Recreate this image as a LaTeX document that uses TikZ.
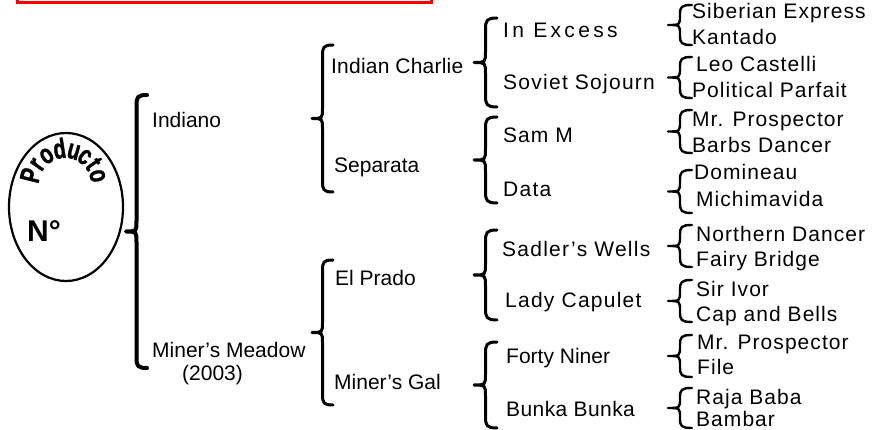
\documentclass[tikz,border=0pt]{standalone}
\usepackage{fontspec}
\setmainfont{Liberation Sans}
\newfontfamily\archfont{Liberation Sans}[FakeStretch=0.72, FakeBold=1.2]
\usetikzlibrary{shapes.geometric}

\tikzset{
  lbl/.style={anchor=base west, inner sep=0pt, font=\fontsize{21}{24}\selectfont},
  spaced/.style={execute at begin node={\addfontfeature{LetterSpace=#1}}},
  arch letter/.style={anchor=base, inner sep=0pt, font=\archfont\bfseries\fontsize{28}{28}\selectfont},
  brace line/.style={line width=3pt, line cap=round, line join=round},
}

% curly bracket, tip to the left: [opts] right x, top y, bottom y, width
\newcommand{\curly}[5][]{%
  \pgfmathsetmacro\crl{min(0.5*#5,0.24*(#4-#3))}%
  \pgfmathsetmacro\xm{#2-0.5*#5}%
  \pgfmathsetmacro\ym{(#3+#4)/2}%
  \draw[brace line,#1] (#2,#3) .. controls ({#2-0.45*#5},#3) and (\xm,{#3+0.2*\crl}) .. (\xm,{#3+\crl})
    -- (\xm,{\ym-\crl})
    .. controls (\xm,\ym) .. ({#2-#5},\ym)
    .. controls (\xm,\ym) .. (\xm,{\ym+\crl})
    -- (\xm,{#4-\crl})
    .. controls (\xm,{#4-0.2*\crl}) and ({#2-0.45*#5},#4) .. (#2,#4);}

\begin{document}
\begin{tikzpicture}[x=1pt, y=-1pt]
    \useasboundingbox (0,0) rectangle (876,430);
    % red frame, cut off at the top
    \draw[red, line width=3pt] (17.5,-10) -- (17.5,2.5) -- (431.5,2.5) -- (431.5,-10);

    % the product
    \node[draw, ellipse, line width=2.2pt, minimum width=114, minimum height=148, inner sep=0pt] (prod) at (66,207) {};
    \foreach \ch/\ang [count=\i] in {P/166, r/145, o/123, d/99, u/75, c/54, t/35, o/14}
      \node[arch letter, rotate=\ang-90] (letter\i) at ([shift={(-\ang:26)}]65,184) {\ch};
    \node[lbl, font=\bfseries\fontsize{30}{30}\selectfont] (num) at (27,242) {N°};

    % level 1
    \curly[line width=4pt]{147}{95}{368}{21}
    \node[lbl] (indiano) at (152,128) {Indiano};
    \node[lbl] (meadow) at (152,358) {Miner's Meadow};
    \node[lbl] (year) at (182,381) {(2003)};

    % level 2
    \curly{333}{45}{192}{21}
    \curly{333}{260}{405}{21}
    \node[lbl, spaced=1] (charlie) at (331,74) {Indian Charlie};
    \node[lbl] (separata) at (334,173) {Separata};
    \node[lbl] (prado) at (335,286) {El Prado};
    \node[lbl] (gal) at (334,390) {Miner's Gal};

    % level 3
    \curly{497}{18}{107}{23}
    \curly{497}{117}{203}{23}
    \curly{497}{230}{320}{23}
    \curly{497}{342}{428}{23}
    \node[lbl, spaced=16] (excess) at (503,38) {In Excess};
    \node[lbl, spaced=6] (sojourn) at (503,90) {Soviet Sojourn};
    \node[lbl, spaced=5] (samm) at (503,143) {Sam M};
    \node[lbl, spaced=6] (data) at (503,197) {Data};
    \node[lbl, spaced=6] (sadler) at (502,257) {Sadler's Wells};
    \node[lbl, spaced=6] (lady) at (505,308) {Lady Capulet};
    \node[lbl] (forty) at (506,363) {Forty Niner};
    \node[lbl, spaced=2] (bunka) at (506,417) {Bunka Bunka};

    % level 4
    \curly[line width=2.4pt]{692}{5}{45}{24}
    \curly[line width=2.4pt]{692}{57}{98}{24}
    \curly[line width=2.4pt]{692}{110}{153}{24}
    \curly[line width=2.4pt]{692}{170}{213}{24}
    \curly[line width=2.4pt]{692}{225}{267}{24}
    \curly[line width=2.4pt]{692}{280}{322}{24}
    \curly[line width=2.4pt]{692}{335}{377}{24}
    \curly[line width=2.4pt]{692}{388}{428}{24}
    \node[lbl, spaced=5] (siberian) at (692,19) {Siberian Express};
    \node[lbl, spaced=5] (kantado) at (692,45) {Kantado};
    \node[lbl, spaced=5] (leo) at (696,72) {Leo Castelli};
    \node[lbl, spaced=5] (political) at (692,98) {Political Parfait};
    \node[lbl, spaced=5] (mrpa) at (692,127) {Mr. Prospector};
    \node[lbl, spaced=5] (barbs) at (692,153) {Barbs Dancer};
    \node[lbl, spaced=5] (domineau) at (694,180) {Domineau};
    \node[lbl, spaced=5] (michi) at (696,207) {Michimavida};
    \node[lbl, spaced=5] (northern) at (696,242) {Northern Dancer};
    \node[lbl, spaced=5] (fairy) at (696,267) {Fairy Bridge};
    \node[lbl, spaced=5] (ivor) at (696,297) {Sir Ivor};
    \node[lbl, spaced=5] (bells) at (696,322) {Cap and Bells};
    \node[lbl, spaced=5] (mrpb) at (697,350) {Mr. Prospector};
    \node[lbl, spaced=5] (file) at (697,375) {File};
    \node[lbl, spaced=5] (raja) at (696,405) {Raja Baba};
    \node[lbl, spaced=5] (bambar) at (696,427) {Bambar};
\end{tikzpicture}
\end{document}
